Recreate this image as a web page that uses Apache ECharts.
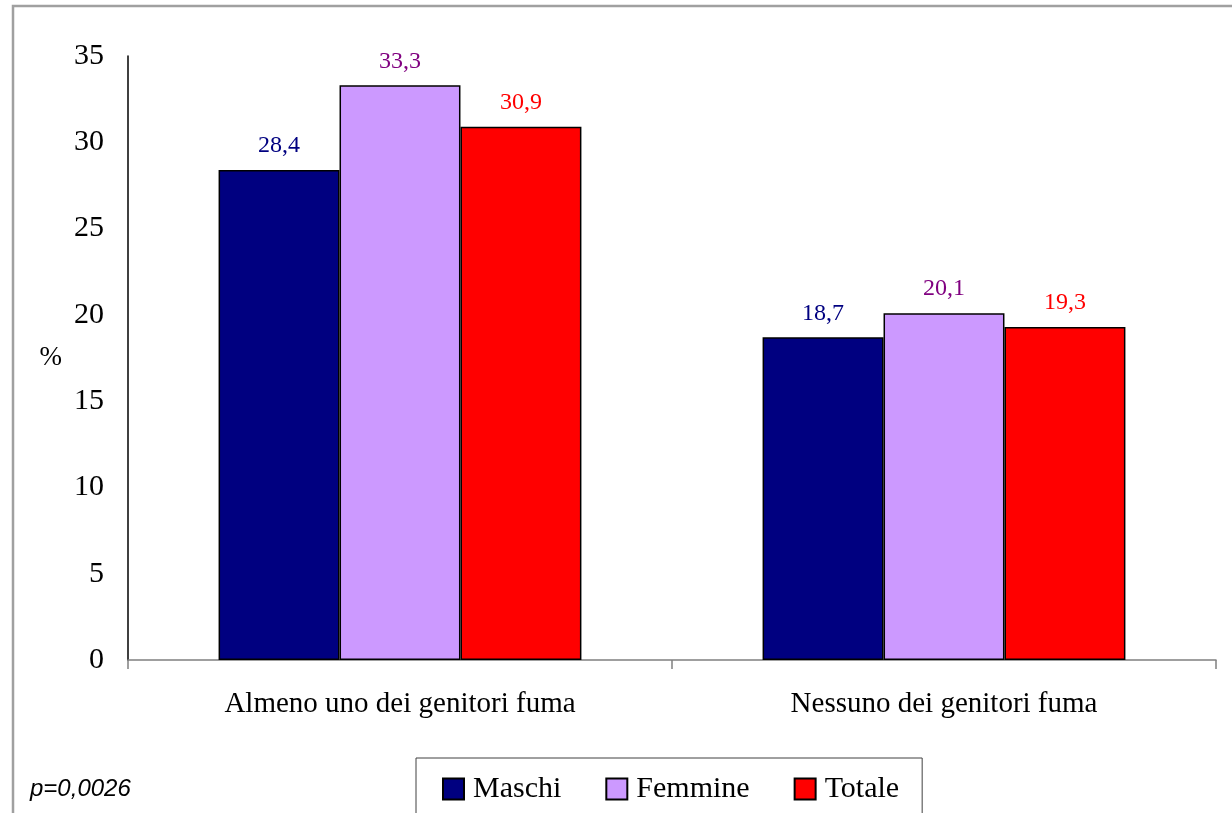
<!DOCTYPE html>
<html>
<head>
<meta charset="utf-8">
<script src="https://cdn.jsdelivr.net/npm/echarts@6/dist/echarts.min.js"></script>
<style>
html,body{margin:0;padding:0;background:#fff;}
#chart{width:1232px;height:813px;}
</style>
</head>
<body>
<div id="chart"></div>
<script>
var categories = ['Almeno uno dei genitori fuma', 'Nessuno dei genitori fuma'];
var seriesNames = ['Maschi', 'Femmine', 'Totale'];
var maschi = [28.4, 18.7];
var femmine = [33.3, 20.1];
var totale = [30.9, 19.3];
var yTicks = [0, 5, 10, 15, 20, 25, 30, 35];

var serif = '"Liberation Serif", "Times New Roman", serif';
var fillColors = ['#000080', '#CC99FF', '#FF0000'];
var labelColors = ['#000080', '#800080', '#FF0000'];
var values = [maschi, femmine, totale];

function fmt(p) { return String(p.value).replace('.', ','); }

var series = seriesNames.map(function (name, i) {
  return {
    name: name,
    type: 'bar',
    data: values[i],
    barGap: '0%',
    barCategoryGap: '33.3%',
    itemStyle: { color: fillColors[i], borderColor: '#000', borderWidth: 1.5 },
    label: {
      show: true,
      position: 'top',
      distance: 12,
      formatter: fmt,
      color: labelColors[i],
      fontFamily: serif,
      fontSize: 24
    },
    emphasis: { disabled: true }
  };
});

var chart = echarts.init(document.getElementById('chart'), null, { renderer: 'canvas' });
chart.setOption({
  backgroundColor: '#fff',
  animation: false,
  grid: { left: 128, right: 16, top: 56, bottom: 153, containLabel: false },
  xAxis: {
    type: 'category',
    data: categories,
    axisLine: { lineStyle: { color: '#808080', width: 1.5 } },
    axisTick: { show: true, length: 9, lineStyle: { color: '#808080', width: 1.5 } },
    axisLabel: { color: '#000', fontFamily: serif, fontSize: 29, margin: 30 }
  },
  yAxis: {
    type: 'value',
    min: 0,
    max: 35,
    interval: 5,
    name: '%',
    nameLocation: 'middle',
    nameRotate: 0,
    nameGap: 66,
    nameTextStyle: { color: '#000', fontFamily: serif, fontSize: 27, padding: [6, 0, 0, 0] },
    axisLine: { show: true, lineStyle: { color: '#000', width: 1.5 } },
    axisTick: { show: false },
    splitLine: { show: false },
    axisLabel: { color: '#000', fontFamily: serif, fontSize: 30, margin: 24 }
  },
  legend: {
    data: seriesNames,
    left: 416,
    top: 758,
    orient: 'horizontal',
    itemWidth: 21,
    itemHeight: 21,
    itemGap: 44,
    padding: [16, 23, 40, 26],
    borderColor: '#404040',
    borderWidth: 1,
    icon: 'rect',
    selectedMode: false,
    textStyle: { color: '#000', fontFamily: serif, fontSize: 30, padding: [0, 0, 0, 4] }
  },
  graphic: [
    {
      type: 'rect',
      shape: { x: 13, y: 6, width: 1300, height: 900 },
      style: { fill: 'none', stroke: '#a0a0a0', lineWidth: 2.5 },
      silent: true,
      z: -10
    },
    {
      type: 'text',
      left: 30,
      top: 777,
      style: {
        text: 'p=0,0026',
        fontFamily: '"Liberation Sans", Arial, sans-serif',
        fontStyle: 'italic',
        fontSize: 24,
        fill: '#000'
      }
    }
  ],
  series: series
});
</script>
</body>
</html>
